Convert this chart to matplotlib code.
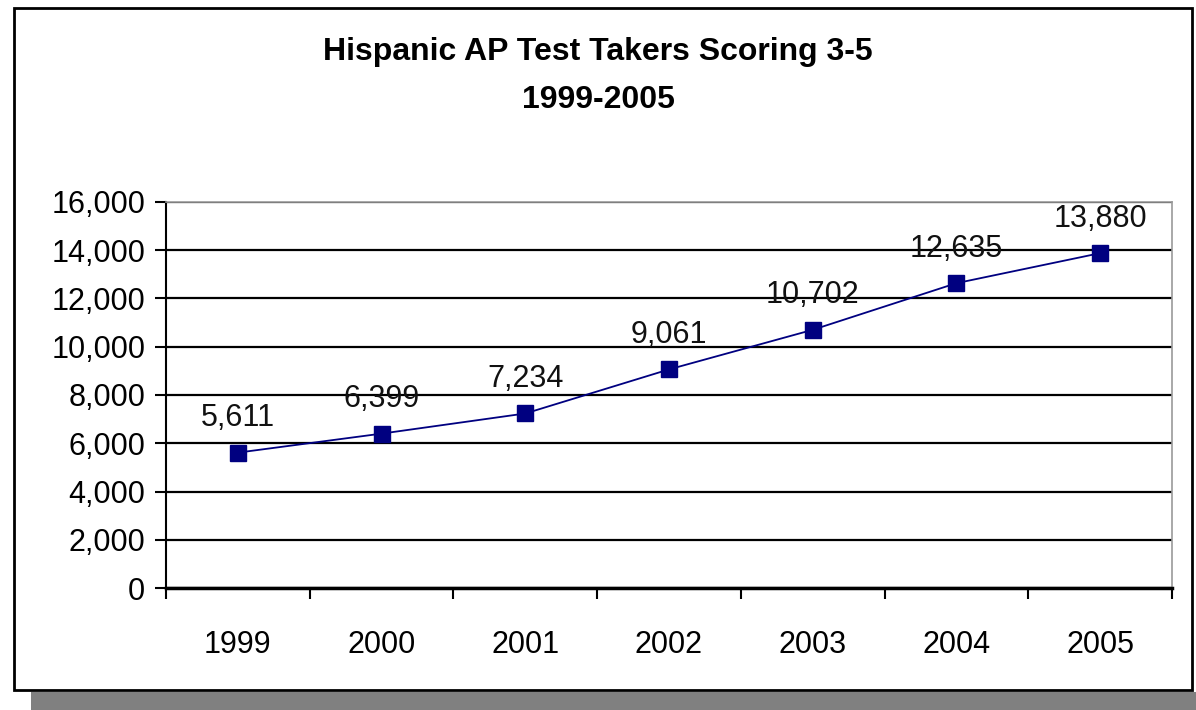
import matplotlib
matplotlib.use("Agg")
import matplotlib.pyplot as plt
from matplotlib.patches import Rectangle

years = ["1999", "2000", "2001", "2002", "2003", "2004", "2005"]
takers = [5611, 6399, 7234, 9061, 10702, 12635, 13880]
yticks = [0, 2000, 4000, 6000, 8000, 10000, 12000, 14000, 16000]

plt.rcParams['font.family'] = ['Liberation Sans Narrow', 'Liberation Sans', 'DejaVu Sans']

fig = plt.figure(figsize=(11.96, 7.10), dpi=100)
W, H = 1196, 710

# shadow and outer frame, kept under the axes
fig.patches.append(Rectangle((31 / W, 0), 1 - 31 / W, 18 / H, transform=fig.transFigure,
                             facecolor='#808080', edgecolor='none', zorder=-3))
fig.patches.append(Rectangle((14 / W, 20 / H), 1178 / W, 682 / H, transform=fig.transFigure,
                             facecolor='white', edgecolor='black', linewidth=2, zorder=-2))

ax = fig.add_axes([166 / W, 122 / H, 1006 / W, 386 / H])
ax.set_facecolor('none')

x = [i + 0.5 for i in range(len(years))]
ax.plot(x, takers, color='#000080', linewidth=1.3, marker='s', markersize=11,
        markerfacecolor='#000080', markeredgecolor='#000080', zorder=3, clip_on=False)
for xi, v in zip(x, takers):
    ax.annotate(f"{v:,}", (xi, v), xytext=(0, 14), textcoords='offset points',
                ha='center', va='bottom', fontsize=22, color='#111111')

ax.set_xlim(0, len(years))
ax.set_ylim(0, 16000)
ax.set_yticks(yticks)
ax.set_yticklabels([f"{t:,}" for t in yticks], fontsize=22)
ax.set_xticks(x)
ax.set_xticklabels(years, fontsize=22)
ax.set_xticks(range(len(years) + 1), minor=True)
ax.tick_params(axis='x', which='major', length=0, pad=30)
ax.tick_params(axis='x', which='minor', length=8, width=1.5, direction='out')
ax.tick_params(axis='y', length=8, width=1.5, direction='out', pad=7)

ax.yaxis.grid(True, color='black', linewidth=1.6)
ax.set_axisbelow(True)
for s in ['top', 'right']:
    ax.spines[s].set_color('#999999')
    ax.spines[s].set_linewidth(1.2)
ax.spines['left'].set_linewidth(1.5)
ax.spines['bottom'].set_linewidth(2.5)

fig.text(0.5, 1 - 52 / H, "Hispanic AP Test Takers Scoring 3-5", ha='center', va='center',
         fontsize=23, fontweight='bold')
fig.text(0.5, 1 - 100 / H, "1999-2005", ha='center', va='center',
         fontsize=23, fontweight='bold')

fig.savefig("out.png", dpi=100)
